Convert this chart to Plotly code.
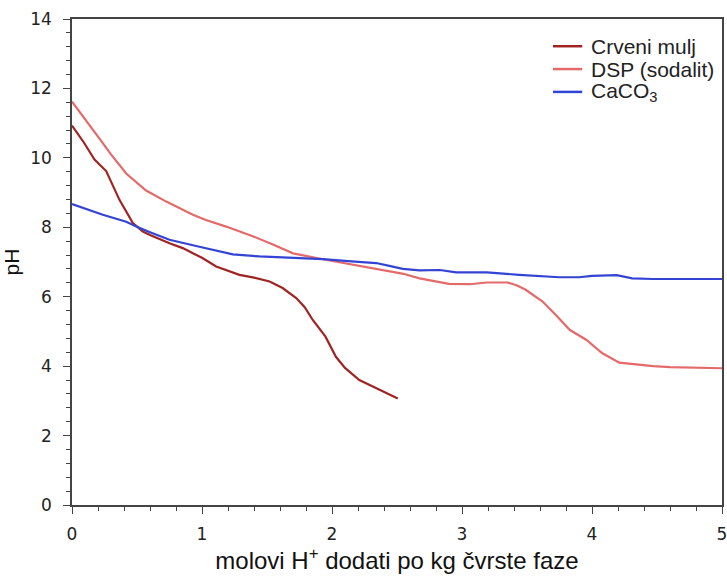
import plotly.graph_objects as go

# Data
crveni_x = [0, 0.09, 0.173, 0.263, 0.365, 0.468, 0.545, 0.6, 0.75, 0.852, 0.93, 1.0, 1.109,
            1.186, 1.288, 1.4, 1.52, 1.62, 1.725, 1.79, 1.852, 1.95, 2.03, 2.1, 2.21, 2.35, 2.506]
crveni_ph = [10.93, 10.45, 9.95, 9.62, 8.79, 8.12, 7.88, 7.78, 7.54, 7.40, 7.25, 7.12, 6.87,
             6.77, 6.63, 6.55, 6.44, 6.25, 5.96, 5.7, 5.33, 4.85, 4.27, 3.95, 3.60, 3.35, 3.07]

dsp_x = [0, 0.1, 0.21, 0.3, 0.417, 0.57, 0.725, 0.93, 1.03, 1.186, 1.4, 1.55, 1.70, 1.93,
         2.15, 2.34, 2.55, 2.673, 2.78, 2.9, 3.06, 3.19, 3.35, 3.42, 3.49, 3.62, 3.72, 3.83,
         3.955, 4.08, 4.21, 4.31, 4.47, 4.6, 4.8, 5.0]
dsp_ph = [11.62, 11.1, 10.56, 10.1, 9.55, 9.06, 8.74, 8.36, 8.21, 8.02, 7.73, 7.5, 7.25, 7.08,
          6.93, 6.79, 6.66, 6.53, 6.45, 6.37, 6.36, 6.41, 6.41, 6.33, 6.2, 5.86, 5.48, 5.04,
          4.76, 4.37, 4.1, 4.06, 4.0, 3.97, 3.95, 3.94]

caco3_x = [0, 0.237, 0.417, 0.49, 0.6, 0.75, 0.98, 1.237, 1.442, 1.75, 1.93, 2.15, 2.34,
           2.45, 2.545, 2.673, 2.83, 2.955, 3.19, 3.44, 3.6, 3.75, 3.90, 4.0, 4.19, 4.31,
           4.47, 4.7, 5.0]
caco3_ph = [8.67, 8.36, 8.16, 8.03, 7.86, 7.64, 7.44, 7.22, 7.16, 7.11, 7.08, 7.02, 6.97,
            6.88, 6.8, 6.76, 6.77, 6.70, 6.70, 6.63, 6.6, 6.56, 6.56, 6.6, 6.62, 6.53,
            6.51, 6.51, 6.51]

series_names = ["Crveni mulj", "DSP (sodalit)", "CaCO<sub>3</sub>"]
series_colors = ["#A02424", "#E46A6A", "#3344D4"]
x_title = "molovi H<sup>+</sup> dodati po kg čvrste faze"
y_title = "pH"

fig = go.Figure()
for name, xs, ys, col in zip(series_names,
                             [crveni_x, dsp_x, caco3_x],
                             [crveni_ph, dsp_ph, caco3_ph],
                             series_colors):
    fig.add_trace(go.Scatter(x=xs, y=ys, mode="lines", name=name,
                             line=dict(color=col, width=2.2), showlegend=False))

# Manual legend (compact spacing as in the reference)
leg_y = [0.944, 0.897, 0.850]
for name, col, yy in zip(series_names, series_colors, leg_y):
    fig.add_shape(type="line", xref="paper", yref="paper",
                  x0=0.74, x1=0.785, y0=yy, y1=yy,
                  line=dict(color=col, width=2.5))
    fig.add_annotation(xref="paper", yref="paper", x=0.796, y=yy,
                       text=name, showarrow=False, xanchor="left", yanchor="middle",
                       font=dict(family="Liberation Sans, Arial", size=21, color="#222"))

axis_common = dict(
    showline=True, linecolor="#444", linewidth=1.5, mirror=True,
    ticks="outside", ticklen=7, tickwidth=1.3, tickcolor="#444",
    showgrid=False, zeroline=False, automargin=False,
    ticklabeloverflow="allow",
    tickfont=dict(family="DejaVu Sans, Verdana", size=17, color="#222"),
)

fig.update_xaxes(range=[0, 5], dtick=1, tick0=0,
                 minor=dict(dtick=0.2, ticklen=4, tickcolor="#444", ticks="outside"),
                 title=dict(text=x_title, font=dict(family="Liberation Sans, Arial", size=24, color="#111"),
                            standoff=6),
                 ticklabelstandoff=6,
                 **axis_common)
fig.update_yaxes(range=[0, 14], dtick=2, tick0=0,
                 minor=dict(dtick=0.4, ticklen=4, tickcolor="#444", ticks="outside"),
                 title=dict(text=y_title, font=dict(family="Liberation Sans, Arial", size=21, color="#111"),
                            standoff=12),
                 ticklabelstandoff=8,
                 **axis_common)

fig.update_layout(
    width=727, height=576,
    margin=dict(l=72, r=5, t=19, b=71),
    plot_bgcolor="white", paper_bgcolor="white",
)

fig.write_html("out.html", config={"displayModeBar": False},
               post_script="document.body.style.margin='0';")
